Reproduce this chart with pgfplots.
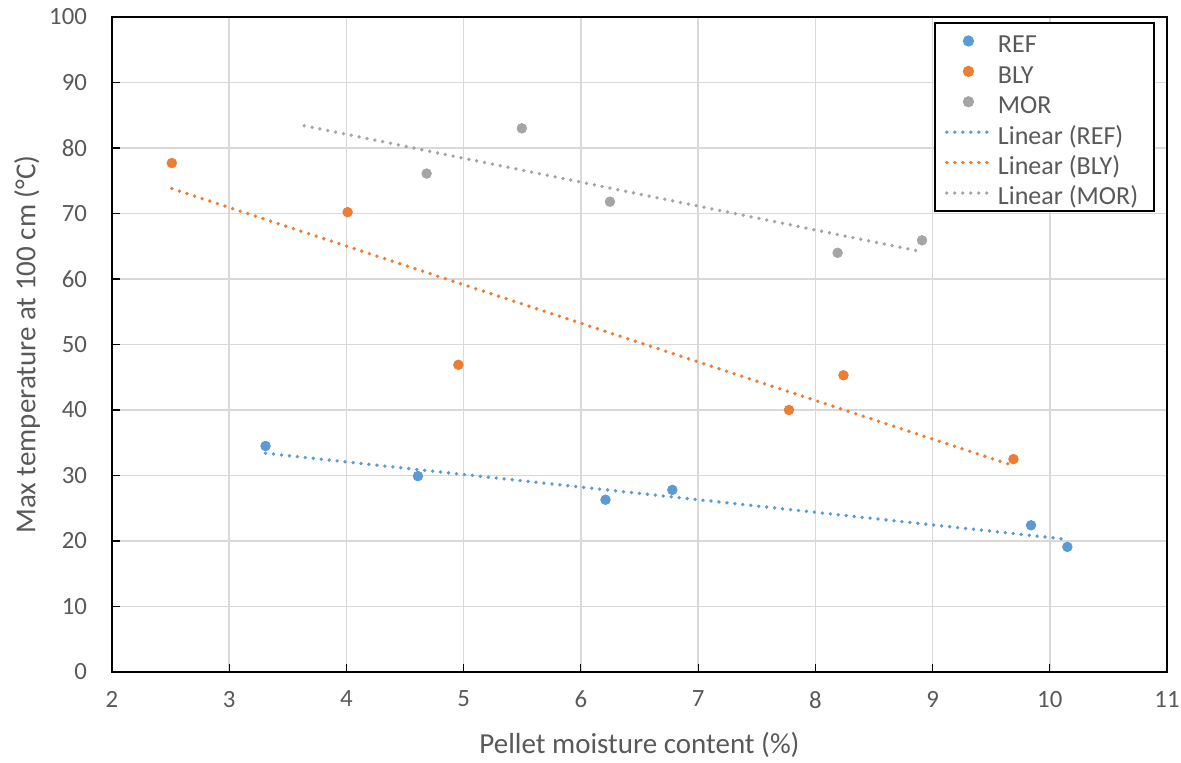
\documentclass[border=0pt]{standalone}
\usepackage{fontspec}
\setmainfont{Carlito}
\usepackage{pgfplots}
\pgfplotsset{compat=1.18}
\definecolor{cref}{HTML}{5B9BD5}
\definecolor{cbly}{HTML}{ED7D31}
\definecolor{cmor}{HTML}{A5A5A5}
\definecolor{txt}{HTML}{595959}
\definecolor{gridc}{HTML}{D9D9D9}
\begin{document}
\begin{tikzpicture}
\begin{axis}[
  scale only axis,
  width=527.5pt, height=327.5pt,
  xmin=2, xmax=11, ymin=0, ymax=100,
  xtick={2,3,...,11}, ytick={0,10,...,100},
  tick pos=left, tick align=inside,
  major tick length=4pt,
  tick style={black, line width=0.6pt},
  axis line style={black, line width=0.8pt},
  grid=major,
  major grid style={gridc, line width=0.8pt},
  ticklabel style={font=\fontsize{12.4}{14}\selectfont, text=txt},
  /pgf/number format/assume math mode=true,
  yticklabel style={xshift=-9pt},
  xticklabel style={yshift=-6pt},
  xlabel={Pellet moisture content (\%)},
  ylabel={Max temperature at 100 cm (°C)},
  label style={font=\fontsize{14.5}{16}\selectfont, text=txt},
  xlabel style={at={(axis description cs:0.5,0)}, anchor=center, yshift=-36.5pt},
  ylabel style={at={(axis description cs:0,0.5)}, anchor=center, yshift=42.5pt},
  legend style={at={(rel axis cs:0.9886,0.9924)}, anchor=north east,
    draw=black, line width=0.8pt, font=\fontsize{13}{15}\selectfont, text=txt,
    legend cell align=left, row sep=0pt, inner xsep=5pt, inner ysep=1.5pt,
    nodes={inner ysep=1.6pt, inner xsep=3pt, text height=12pt, text depth=0pt}},
  legend image code/.code={\draw[mark repeat=2, mark phase=2, #1] plot coordinates {(0cm,0cm) (0.38cm,0cm) (0.76cm,0cm)};},
  mark size=2.4pt,
]
\addplot[only marks, mark=*, cref, mark options={draw=cref, fill=cref}] coordinates {
 (3.31,34.5) (4.61,29.9) (6.21,26.3) (6.78,27.8) (9.84,22.4) (10.15,19.1)};
\addlegendentry{REF}
\addplot[only marks, mark=*, cbly, mark options={draw=cbly, fill=cbly}] coordinates {
 (2.51,77.7) (4.01,70.2) (4.955,46.9) (7.775,40.0) (8.24,45.3) (9.69,32.5)};
\addlegendentry{BLY}
\addplot[only marks, mark=*, cmor, mark options={draw=cmor, fill=cmor}] coordinates {
 (4.684,76.1) (5.496,83.0) (6.248,71.8) (8.19,64.0) (8.91,65.9)};
\addlegendentry{MOR}
\addplot[cref, line width=1.9pt, line cap=round, dash pattern=on 0pt off 4pt, no marks] coordinates {
 (3.31,33.4) (10.15,20.25)};
\addlegendentry{Linear (REF)}
\addplot[cbly, line width=1.9pt, line cap=round, dash pattern=on 0pt off 4pt, no marks] coordinates {
 (2.51,73.8) (9.69,31.5)};
\addlegendentry{Linear (BLY)}
\addplot[cmor, line width=1.9pt, line cap=round, dash pattern=on 0pt off 4pt, no marks] coordinates {
 (3.64,83.4) (8.90,64.2)};
\addlegendentry{Linear (MOR)}
\end{axis}
\pgfresetboundingbox
\path[use as bounding box] (-56pt,-45.5pt) rectangle (534.5pt,336pt);
\end{tikzpicture}
\end{document}
